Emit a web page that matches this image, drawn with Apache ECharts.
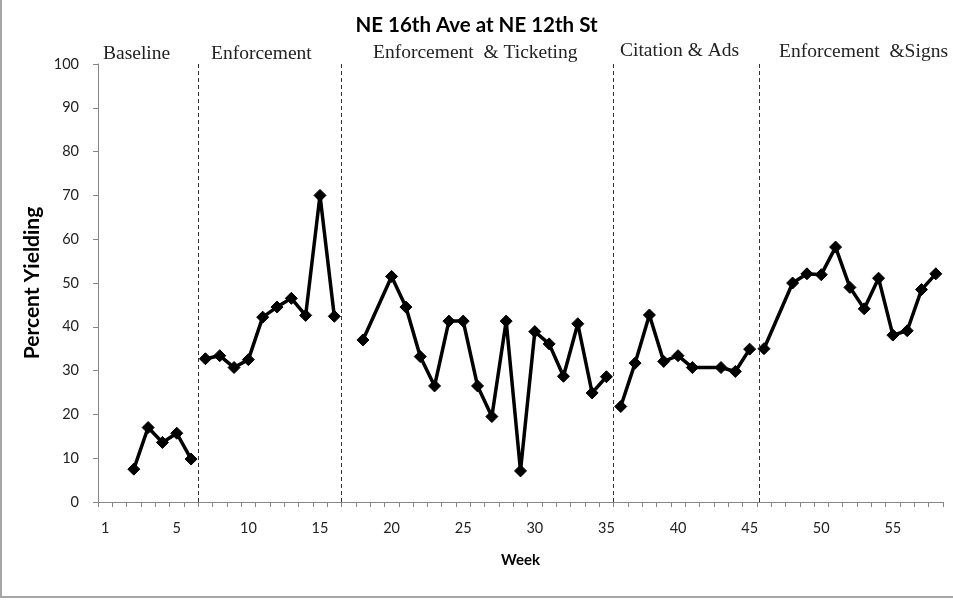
<!DOCTYPE html>
<html>
<head>
<meta charset="utf-8">
<script src="https://cdn.jsdelivr.net/npm/echarts@6/dist/echarts.min.js"></script>
<style>
  html, body { margin: 0; padding: 0; background: #fff; }
  #chart { width: 953px; height: 601px; }
</style>
</head>
<body>
<div id="chart"></div>
<script>
// Tick labels of the week axis (one per category, blanks hidden)
const weekLabels = ['1','','','','','5','','','','','10','','','','','15','','','','','20','','','','','25','','','','','30','','','','','35','','','','','40','','','','','45','','','','','50','','','','','55','','',''];

// Percent yielding per week (null = no observation)
const yielding = [null, null, 7.5, 17.0, 13.6, 15.7, 9.8,
  32.7, 33.4, 30.7, 32.5, 42.2, 44.5, 46.5, 42.6, 70.0, 42.4,
  null, 37.0, null, 51.5, 44.5, 33.2, 26.5, 41.3, 41.3, 26.5, 19.5, 41.3, 7.1, 38.9, 36.1, 28.7, 40.7, 24.9, 28.6,
  21.8, 31.7, 42.7, 32.1, 33.4, 30.7, null, 30.7, 29.8, 34.9,
  35.0, null, 50.0, 52.1, 51.9, 58.2, 49.0, 44.1, 51.1, 38.1, 39.1, 48.5, 52.1];

// Phases: names and first/last category index of each phase
const phaseNames = ['Baseline', 'Enforcement', 'Enforcement  & Ticketing', 'Citation & Ads', 'Enforcement  &Signs'];
const phaseStart = [0, 7, 17, 36, 46];
const phaseEnd = [6, 16, 35, 45, 58];

// Divider positions (in category-boundary units)
const dividerPos = [7, 17, 36, 46.15];

const chart = echarts.init(document.getElementById('chart'), null, { renderer: 'canvas' });

const phaseSeries = phaseNames.map((name, p) => ({
  name: name,
  type: 'line',
  xAxisIndex: 0,
  yAxisIndex: 0,
  connectNulls: true,
  symbol: 'diamond',
  symbolSize: 12,
  showSymbol: true,
  lineStyle: { color: '#000', width: 3.5 },
  itemStyle: { color: '#000', borderColor: '#000' },
  emphasis: { disabled: true },
  data: yielding.map((v, i) => (i >= phaseStart[p] && i <= phaseEnd[p]) ? v : null)
}));

const labelY = [44, 44, 43, 41, 42];
const labelX = [103, 211, 373, 620, 779];

const option = {
  animation: false,
  backgroundColor: '#fff',
  title: {
    text: 'NE 16th Ave at NE 12th St',
    left: 'center',
    top: 10,
    textStyle: { fontFamily: 'Lato', fontWeight: 'bold', fontSize: 20.5, color: '#000' }
  },
  grid: { left: 98, right: 10, top: 64, bottom: 99 },
  xAxis: [{
    type: 'category',
    data: weekLabels,
    boundaryGap: true,
    name: 'Week',
    nameLocation: 'middle',
    nameGap: 51,
    nameTextStyle: { fontFamily: 'Lato', fontWeight: 'bold', fontSize: 15, color: '#000' },
    axisLine: { show: true, lineStyle: { color: '#868686', width: 1 } },
    axisTick: { show: true, interval: 0, length: 5, lineStyle: { color: '#868686' } },
    axisLabel: { interval: 0, margin: 19, fontFamily: 'Lato', fontSize: 14.5, color: '#222' },
    splitLine: { show: false }
  }, {
    type: 'value',
    min: 0,
    max: 59,
    show: false
  }],
  yAxis: {
    type: 'value',
    min: 0,
    max: 100,
    interval: 10,
    name: 'Percent Yielding',
    nameLocation: 'middle',
    nameRotate: 90,
    nameGap: 53,
    nameTextStyle: { fontFamily: 'Lato', fontWeight: 'bold', fontSize: 21, color: '#000' },
    axisLine: { show: true, lineStyle: { color: '#868686', width: 1 } },
    axisTick: { show: true, length: 5, lineStyle: { color: '#868686' } },
    axisLabel: { margin: 19, fontFamily: 'Lato', fontSize: 14.5, color: '#222' },
    splitLine: { show: false }
  },
  series: phaseSeries.concat([{
    type: 'line',
    xAxisIndex: 1,
    yAxisIndex: 0,
    data: [],
    silent: true,
    markLine: {
      silent: true,
      symbol: ['none', 'none'],
      label: { show: false },
      lineStyle: { color: '#333', type: [4, 3], width: 1 },
      data: dividerPos.map(x => ({ xAxis: x }))
    }
  }]),
  graphic: phaseNames.map((name, i) => ({
    type: 'text',
    left: labelX[i],
    top: labelY[i],
    silent: true,
    style: { text: name, fontFamily: 'Liberation Serif', fontSize: 19.5, fill: '#222' }
  })).concat([
    { type: 'line', silent: true, shape: { x1: 1, y1: 0, x2: 1, y2: 597 }, style: { stroke: '#a6a6a6', lineWidth: 2 } },
    { type: 'line', silent: true, shape: { x1: 0, y1: 597, x2: 953, y2: 597 }, style: { stroke: '#a6a6a6', lineWidth: 2 } }
  ])
};

chart.setOption(option);
</script>
</body>
</html>
